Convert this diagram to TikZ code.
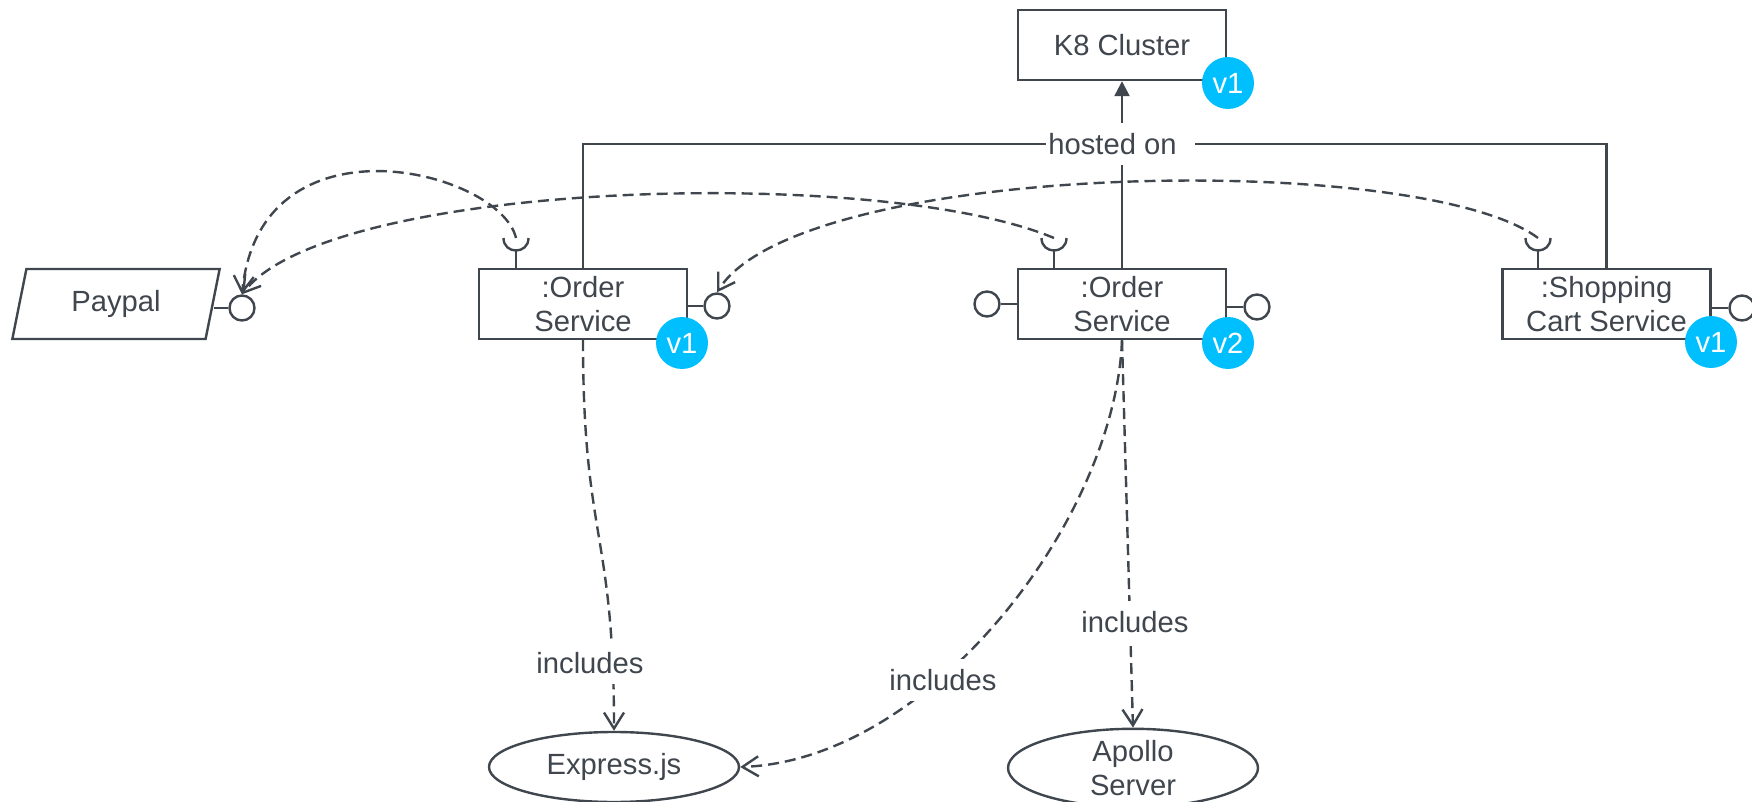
\documentclass[tikz,border=0pt]{standalone}
\usepackage{fontspec}
\setmainfont{Liberation Sans}
\usetikzlibrary{arrows.meta,shapes.geometric}
\definecolor{ink}{HTML}{40464E}
\definecolor{badgeblue}{HTML}{00BFFF}

\begin{document}
\begin{tikzpicture}[x=0.5pt,y=-0.5pt,
  every node/.style={font=\fontsize{14.6pt}{17pt}\selectfont, text=ink},
  box/.style={draw=ink, line width=1.2pt, fill=white, minimum width=104pt,
    minimum height=35pt, align=center, inner sep=0pt},
  badge/.style={circle, fill=badgeblue, text=white, minimum size=26pt, inner sep=0pt},
  lolli/.style={circle, draw=ink, line width=1.2pt, fill=white, minimum size=12.5pt, inner sep=0pt},
  wire/.style={draw=ink, line width=1.2pt},
  dep/.style={draw=ink, line width=1.2pt, dash pattern=on 5.5pt off 3pt,
    -{Straight Barb[length=8pt,width=10pt]}},
  lbl/.style={fill=white, inner xsep=1pt, inner ysep=5pt},
  comp/.style={ellipse, draw=ink, line width=1.2pt, fill=white, minimum width=125pt,
    minimum height=35pt, inner sep=0pt, align=center},
]
\useasboundingbox (0,0) rectangle (1752,802);

% components
\node[box] (k8)   at (1122,45)    {K8 Cluster};
\node[box] (osv1) at (583,304)    {:Order\\Service};
\node[box] (osv2) at (1122,304)   {:Order\\Service};
\node[box] (shop) at (1606.5,304) {:Shopping\\Cart Service};
\node[trapezium, trapezium left angle=75.6, trapezium right angle=104.4,
  trapezium stretches, draw=ink, line width=1.2pt, fill=white,
  minimum width=104pt, minimum height=35pt, inner sep=0pt] (paypal) at (116,304) {Paypal};
\node[comp] (express) at (614,767)  {Express.js};
\node[comp] (apollo)  at (1133,768) {Apollo\\Server};

% provided interfaces (lollipops)
\node[lolli] (lp)  at (242,308)  {};
\node[lolli] (l1)  at (717,306)  {};
\node[lolli] (l2l) at (987,304)  {};
\node[lolli] (l2r) at (1257,307) {};
\node[lolli] (l3)  at (1742,308) {};
\draw[wire] (lp.west)  -- (lp.west -| paypal.east);
\draw[wire] (l1.west)  -- (l1.west -| osv1.east);
\draw[wire] (l2l.east) -- (l2l.east -| osv2.west);
\draw[wire] (l2r.west) -- (l2r.west -| osv2.east);
\draw[wire] (l3.west)  -- (l3.west -| shop.east);

% required interfaces (sockets)
\coordinate (s1) at (516,238);
\coordinate (s2) at (1054,238);
\coordinate (s3) at (1538,238);
\foreach \s/\b in {s1/osv1, s2/osv2, s3/shop}{
  \draw[wire] (\b.north -| \s) -- ([yshift=-6.25pt]\s);
  \draw[wire] ([xshift=-6.25pt]\s) .. controls +(0,16.67) and +(0,16.67) .. ([xshift=6.25pt]\s);
}

% version badges
\node[badge] (bk8)   at (1228,83)  {v1};
\node[badge] (bosv1) at (682,343)  {v1};
\node[badge] (bosv2) at (1228,343) {v2};
\node[badge] (bshop) at (1711,342) {v1};

% hosted on
\coordinate (hub) at (1122,144);
\draw[wire] (osv1.north) |- (hub) -| (shop.north);
\draw[wire] (osv2.north) -- (hub);
\draw[wire, -{Triangle[length=7.5pt,width=7.5pt]}] (hub) -- (k8.south);

% usage dependencies
\draw[dep] (s1) .. controls (500,170) and (260,110) .. (lp.north);
\draw[dep] (s2) .. controls (880,165) and (330,180) .. (lp.north);
\draw[dep] (s3) .. controls (1420,150) and (800,160) .. (l1.north);

% includes
\draw[dep] (osv1.south) .. controls (583,540) and (614,530) .. (express.north);
\draw[dep] (osv2.south) .. controls (1115,520) and (930,760) .. (express.east);
\draw[dep] (osv2.south) -- (apollo.north);

% labels
\node[lbl, anchor=west] (hosted) at (1046,144) {hosted on\hspace*{8pt}};
\node[lbl] (inc1) at (590,663)  {includes};
\node[lbl] (inc2) at (943,680)  {includes};
\node[lbl] (inc3) at (1135,622) {includes};
\end{tikzpicture}
\end{document}
